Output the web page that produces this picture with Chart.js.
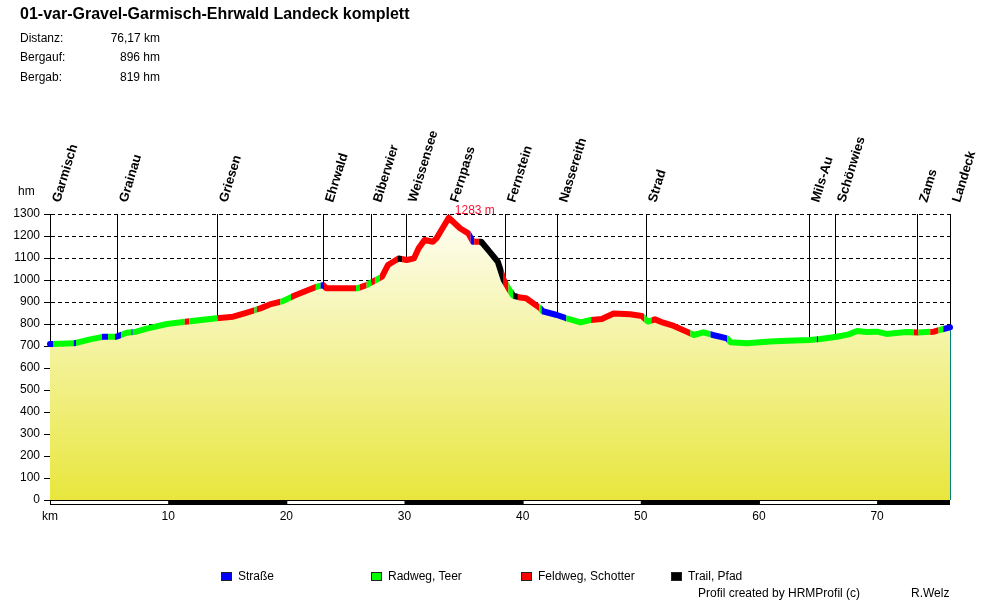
<!DOCTYPE html>
<html><head><meta charset="utf-8">
<script src="https://cdn.jsdelivr.net/npm/chart.js@4.4.1/dist/chart.umd.min.js"></script>
<style>
html,body{margin:0;padding:0;background:#fff;}
#wrap{position:relative;width:1000px;height:600px;font-family:Arial,"Liberation Sans",sans-serif;color:#000;overflow:hidden;}
#c{position:absolute;left:0;top:0;}
.t{position:absolute;white-space:nowrap;font-size:12px;line-height:14px;}
.sq{position:absolute;width:9px;height:7px;border:1px solid #222;}
</style></head><body>
<div id="wrap">
<canvas id="c" width="1000" height="600"></canvas>
<div class="t" style="left:20px;top:5px;font-size:16px;font-weight:bold;line-height:18px">01-var-Gravel-Garmisch-Ehrwald Landeck komplett</div>
<div class="t" style="left:20px;top:31px">Distanz:</div><div class="t" style="left:60px;top:31px;width:100px;text-align:right">76,17 km</div>
<div class="t" style="left:20px;top:50px">Bergauf:</div><div class="t" style="left:60px;top:50px;width:100px;text-align:right">896 hm</div>
<div class="t" style="left:20px;top:70px">Bergab:</div><div class="t" style="left:60px;top:70px;width:100px;text-align:right">819 hm</div>
<div class="t" style="left:18px;top:184px">hm</div>
<div id="legend"></div>
<div class="t" style="left:698px;top:586px">Profil created by HRMProfil (c)</div>
<div class="t" style="left:911px;top:586px">R.Welz</div>
</div>
<script>
// ---- data ----
const totalKm = 76.17;
const kmPoints = [0,2.0,3.4,4.5,5.6,6.5,7.3,8.2,9.9,11.6,14.1,15.5,16.6,17.8,18.6,19.7,20.6,21.7,22.6,23.1,23.4,26.0,26.8,27.2,28.1,28.6,29.5,30.2,30.8,31.2,31.7,32.4,32.7,33.75,34.7,35.4,35.8,36.5,37.2,37.9,38.4,38.8,39.2,39.8,40.3,41.5,41.7,42.9,43.7,44.9,45.7,46.7,47.7,49.1,50.1,50.6,51.2,51.9,52.8,53.9,54.5,55.3,56.1,57.3,57.6,59.0,60.9,62.4,64.3,65.2,66.6,67.6,68.3,69.1,70.0,70.8,71.4,72.5,73.4,74.8,75.5,76.17];
const elevation = [709,712,730,742,742,760,765,779,800,811,826,833,851,871,889,904,927,951,970,977,962,962,977,989,1015,1068,1098,1091,1098,1144,1182,1174,1189,1283,1235,1212,1174,1174,1129,1083,1000,962,929,920,917,871,858,841,826,807,818,823,848,844,836,811,821,806,791,765,750,762,750,735,717,712,720,724,727,732,742,753,768,764,765,755,758,764,761,765,776,785];
const surfaceStart = [0,0.3,2.0,2.2,4.4,4.9,5.5,6.0,6.9,7.0,11.4,11.8,14.2,17.3,17.5,19.5,20.4,22.5,22.9,23.2,25.9,26.2,26.8,27.2,27.5,27.9,29.4,29.8,35.6,35.9,36.3,38.4,38.8,39.2,39.6,41.4,41.6,43.7,45.8,50.3,50.9,54.2,55.9,57.3,64.9,65.0,73.1,73.5,74.5,75.2,75.6];
const surfaceType  = ['S','R','S','R','S','R','S','R','S','R','F','R','F','R','F','R','F','R','S','F','R','F','R','F','R','F','T','F','S','F','T','F','R','T','F','R','S','R','F','R','F','R','S','R','S','R','F','R','F','R','S'];
const surfaceKeys = ['S','R','F','T'];
const surfaceLabels = ['Straße','Radweg, Teer','Feldweg, Schotter','Trail, Pfad'];
const surfaceColors = ['#0000ff','#00ff00','#ff0000','#000000'];
const placeNames = ['Garmisch','Grainau','Griesen','Ehrwald','Biberwier','Weissensee','Fernpass','Fernstein','Nassereith','Strad','Mils-Au','Schönwies','Zams','Landeck'];
const placeKm = [0,5.7,14.1,23.13,27.2,30.13,33.65,38.5,42.94,50.44,64.27,66.47,73.36,76.17];
const yMin = 0, yMax = 1300, yStep = 100;
const xStep = 10;

// legend (HTML)
const leg = document.getElementById('legend');
surfaceLabels.forEach((lab,i)=>{
  const sq = document.createElement('div'); sq.className='sq';
  sq.style.left=(221+150*i)+'px'; sq.style.top='572px'; sq.style.background=surfaceColors[i];
  leg.appendChild(sq);
  const t = document.createElement('div'); t.className='t';
  t.style.left=(238+150*i)+'px'; t.style.top='569px'; t.textContent=lab;
  leg.appendChild(t);
});

const colorOf = k => surfaceColors[surfaceKeys.indexOf(k)];

const profilePlugin = {
  id:'profile',
  beforeDatasetsDraw(chart){
    const {ctx, chartArea:a, scales:{x,y}} = chart;
    ctx.save();
    ctx.strokeStyle='#000'; ctx.lineWidth=1;
    placeKm.forEach(k=>{
      const px = Math.round(x.getPixelForValue(k))+0.5;
      ctx.beginPath(); ctx.moveTo(px, y.getPixelForValue(yMax)); ctx.lineTo(px, a.bottom); ctx.stroke();
    });
    ctx.restore();
  },
  afterDatasetsDraw(chart){
    const {ctx, chartArea:a} = chart;
    const pts = chart.getDatasetMeta(0).data;
    const last = pts[pts.length-1];
    ctx.save();
    ctx.strokeStyle='#008080'; ctx.lineWidth=1;
    const px = Math.round(last.x)+0.5;
    ctx.beginPath(); ctx.moveTo(px,last.y); ctx.lineTo(px,a.bottom); ctx.stroke();
    ctx.restore();
  },
  afterDraw(chart){
    const {ctx, chartArea:a, scales:{x,y}} = chart;
    // km bar
    ctx.save();
    const b0 = a.bottom, bh = 5;
    ctx.fillStyle='#000';
    ctx.fillRect(x.getPixelForValue(0), b0, x.getPixelForValue(totalKm)-x.getPixelForValue(0), bh);
    ctx.fillStyle='#fff';
    for(let k=0;k<totalKm;k+=2*xStep){
      const x0=x.getPixelForValue(k), x1=x.getPixelForValue(Math.min(k+xStep,totalKm));
      ctx.fillRect(x0+1, b0+1, x1-x0-1, bh-2);
    }
    ctx.restore();
    // coloured profile line
    const pts = chart.getDatasetMeta(0).data;
    ctx.save();
    ctx.lineWidth=6; ctx.lineJoin='round'; ctx.lineCap='round';
    for(let i=0;i<surfaceStart.length;i++){
      const k0=surfaceStart[i], k1=(i+1<surfaceStart.length)?surfaceStart[i+1]:totalKm;
      const left = i===0 ? 0 : x.getPixelForValue(k0);
      const right = (i===surfaceStart.length-1) ? chart.width : x.getPixelForValue(k1);
      ctx.save();
      ctx.beginPath(); ctx.rect(left,0,right-left,chart.height); ctx.clip();
      ctx.beginPath();
      pts.forEach((p,j)=> j ? ctx.lineTo(p.x,p.y) : ctx.moveTo(p.x,p.y));
      ctx.strokeStyle=colorOf(surfaceType[i]);
      ctx.stroke();
      ctx.restore();
    }
    ctx.restore();
    // place names
    ctx.save();
    ctx.font='bold 13px Arial, "Liberation Sans", sans-serif';
    ctx.fillStyle='#000'; ctx.textBaseline='alphabetic'; ctx.textAlign='left';
    const topY = y.getPixelForValue(yMax);
    placeNames.forEach((n,i)=>{
      const px = Math.round(x.getPixelForValue(placeKm[i]));
      ctx.save();
      ctx.translate(px+10, topY-11);
      ctx.rotate(-73*Math.PI/180);
      ctx.fillText(n,0,0);
      ctx.restore();
    });
    ctx.restore();
    // peak label
    let mi=0; elevation.forEach((v,i)=>{ if(v>elevation[mi]) mi=i; });
    const pk = pts[mi];
    ctx.save();
    ctx.font='12px Arial, "Liberation Sans", sans-serif';
    ctx.fillStyle='#ff1030'; ctx.textBaseline='alphabetic';
    ctx.fillText(elevation[mi]+' m', pk.x+6, pk.y-4);
    ctx.restore();
  }
};

new Chart(document.getElementById('c'), {
  type:'line',
  data:{
    datasets:[{
      data: kmPoints.map((k,i)=>({x:k,y:elevation[i]})),
      borderWidth:0, borderColor:'rgba(0,0,0,0)', pointRadius:0, tension:0,
      fill:'origin',
      backgroundColor: (c)=>{
        const ch=c.chart; if(!ch.chartArea) return '#f3f299';
        const ys=ch.scales.y;
        const g=ch.ctx.createLinearGradient(0,ys.getPixelForValue(yMax),0,ys.getPixelForValue(yMin));
        g.addColorStop(0,'#fefef6'); g.addColorStop(1,'#e8e63c');
        return g;
      }
    }]
  },
  options:{
    responsive:false, animation:false, devicePixelRatio:1,
    layout:{padding:{left:0,right:50,top:214,bottom:0}},
    plugins:{legend:{display:false}, tooltip:{enabled:false}},
    scales:{
      x:{type:'linear', min:0, max:totalKm,
        afterFit:s=>{s.height=100;},
        grid:{display:false, drawTicks:false},
        border:{display:false},
        ticks:{stepSize:xStep, includeBounds:false, autoSkip:false, maxRotation:0, padding:9,
          color:'#000', font:{family:'Arial, "Liberation Sans", sans-serif', size:12},
          callback:v=> v===0 ? 'km' : String(v)}
      },
      y:{min:yMin, max:yMax, z:1,
        afterFit:s=>{s.width=50;},
        grid:{color:'#000', lineWidth:1, tickLength:6, tickColor:'#000', tickBorderDash:[]},
        border:{display:true, color:'#000', width:1, dash:[4,3]},
        ticks:{stepSize:yStep, padding:4, color:'#000', font:{family:'Arial, "Liberation Sans", sans-serif', size:12},
          callback:v=>String(v)}
      }
    }
  },
  plugins:[profilePlugin]
});
</script>
</body></html>
